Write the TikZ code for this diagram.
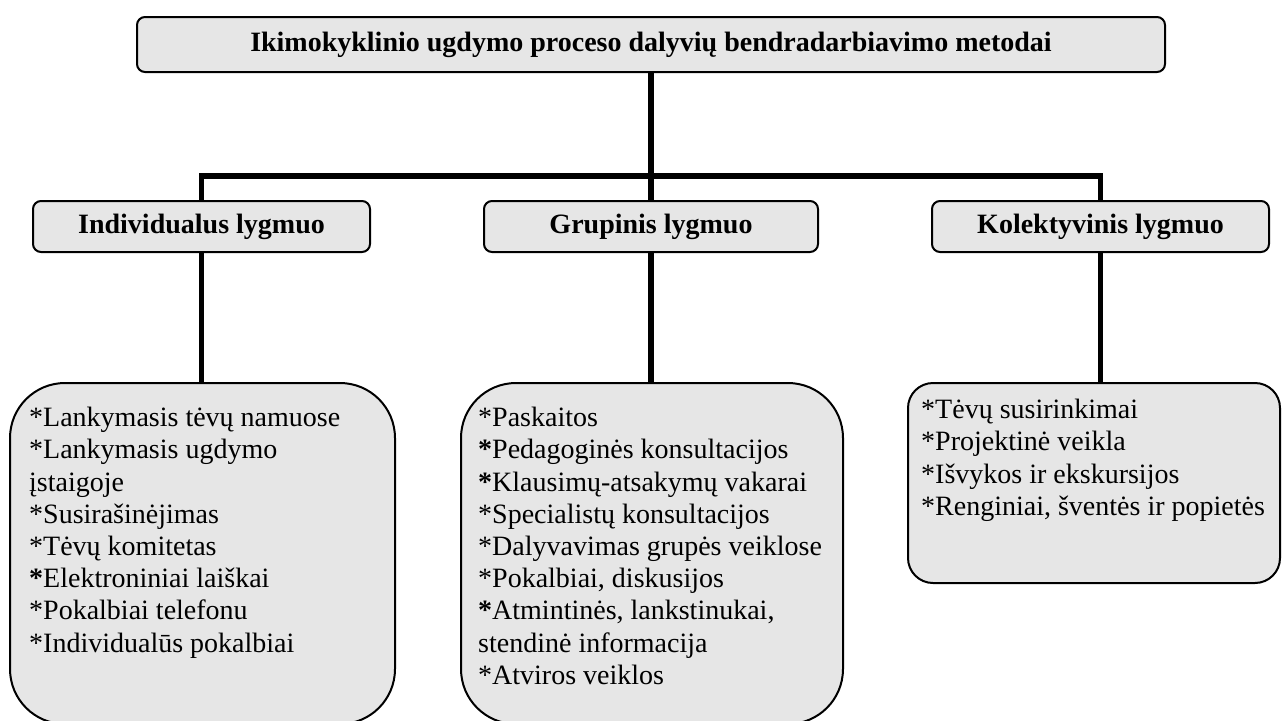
\documentclass[tikz,border=0pt]{standalone}
\usepackage{fontspec}
\setmainfont{Liberation Serif}
\usepackage{xcolor}
\definecolor{boxGray}{HTML}{E6E6E6}
\usetikzlibrary{positioning,backgrounds,calc}

\tikzset{
  headbox/.style={draw=black, fill=boxGray, line width=2pt, rounded corners=8pt,
    inner sep=0pt, font=\fontsize{28}{32.2}\selectfont\bfseries},
  listbox/.style={draw=black, fill=boxGray, line width=2pt, inner sep=0pt},
  listtext/.style={anchor=north west, inner sep=0pt, align=left,
    font=\fontsize{28}{32.2}\selectfont},
  link/.style={draw=black, line width=5.5pt},
}

\begin{document}
\begin{tikzpicture}[x=1pt, y=-1pt]

    \useasboundingbox (0,0) rectangle (1284,720);

    % --- Title ---
    \node[headbox, minimum width=1028pt, minimum height=55pt] (title) at (651,44.5)
        {Ikimokyklinio ugdymo proceso dalyvių bendradarbiavimo metodai};
    \coordinate (split) at (651,176);

    % --- Levels ---
    \node[headbox, minimum width=337pt, minimum height=51pt] (lvlI) at (201.5,226.5) {Individualus lygmuo};
    \node[headbox, minimum width=334pt, minimum height=51pt] (lvlG) at (651,226.5) {Grupinis lygmuo};
    \node[headbox, minimum width=337pt, minimum height=51pt] (lvlK) at (1100.5,226.5) {Kolektyvinis lygmuo};

    % --- Method boxes ---
    \node[listbox, rounded corners=55pt, minimum width=385pt, minimum height=341pt] (boxI) at (202.5,553.5) {};
    \node[listbox, rounded corners=55pt, minimum width=382pt, minimum height=341pt] (boxG) at (652,553.5) {};
    \node[listbox, rounded corners=25pt, minimum width=372pt, minimum height=200pt] (boxK) at (1094,483) {};

    \node[listtext] (txtI) at (29,407) {*Lankymasis tėvų namuose\\
        *Lankymasis ugdymo\\
        įstaigoje\\
        *Susirašinėjimas\\
        *Tėvų komitetas\\
        \textbf{*}Elektroniniai laiškai\\
        *Pokalbiai telefonu\\
        *Individualūs pokalbiai};
    \node[listtext] (txtG) at (478,407) {*Paskaitos\\
        \textbf{*}Pedagoginės konsultacijos\\
        \textbf{*}Klausimų-atsakymų vakarai\\
        *Specialistų konsultacijos\\
        *Dalyvavimas grupės veiklose\\
        *Pokalbiai, diskusijos\\
        \textbf{*}Atmintinės, lankstinukai,\\
        stendinė informacija\\
        *Atviros veiklos};
    \node[listtext] (txtK) at (921,399) {*Tėvų susirinkimai\\
        *Projektinė veikla\\
        *Išvykos ir ekskursijos\\
        *Renginiai, šventės ir popietės};

    % --- Connectors ---
    \begin{scope}[on background layer]
        \draw[link] (title.south) -- (split) -- (lvlG.north);
        \draw[link] (lvlI.north) |- (split) -| (lvlK.north);
        \draw[link] (lvlI.south) -- (lvlI.south |- boxI.north);
        \draw[link] (lvlG.south) -- (lvlG.south |- boxG.north);
        \draw[link] (lvlK.south) -- (lvlK.south |- boxK.north);
    \end{scope}

\end{tikzpicture}
\end{document}
